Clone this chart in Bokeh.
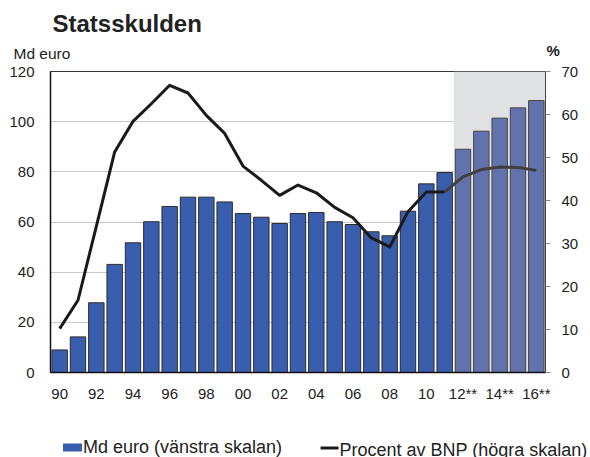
from bokeh.plotting import figure
from bokeh.models import (Range1d, LinearAxis, FixedTicker, ColumnDataSource, Label)
from bokeh.embed import file_html
from bokeh.resources import INLINE

# ---- data ----
years = list(range(1990, 2017))
debt_bn_eur = [9.0, 14.2, 27.8, 43.1, 51.7, 60.1, 66.2, 69.9, 69.9, 68.0, 63.4, 61.9, 59.4,
               63.4, 63.8, 60.1, 59.0, 56.1, 54.5, 64.3, 75.2, 79.7, 89.0, 96.2, 101.4,
               105.5, 108.4]
pct_gdp = [10.2, 16.8, 34.0, 51.3, 58.4, 62.5, 66.8, 65.0, 59.8, 55.6, 48.0, 44.7, 41.2,
           43.6, 41.8, 38.4, 36.0, 31.3, 29.2, 37.4, 42.0, 42.0, 45.5, 47.2, 47.8, 47.7, 47.0]
forecast_start = 2012
x_ticks = list(range(1990, 2017, 2))
x_tick_labels = ["90", "92", "94", "96", "98", "00", "02", "04", "06", "08", "10",
                 "12**", "14**", "16**"]
left_ticks = [0, 20, 40, 60, 80, 100, 120]
right_ticks = [0, 10, 20, 30, 40, 50, 60, 70]
title_text = "Statsskulden"
left_unit = "Md euro"
right_unit = "%"
legend_bar = "Md euro (vänstra skalan)"
legend_line = "Procent av BNP (högra skalan)"

FONT = "Liberation Sans"
TXT = "#222222"
BAR_HIST = "#3a5eae"
BAR_FC = "#6272ad"
LINE_HIST = "#1a1a1a"
LINE_FC = "#404040"

hist_idx = [i for i, y in enumerate(years) if y < forecast_start]
fc_idx = [i for i, y in enumerate(years) if y >= forecast_start]
line_hist_idx = [i for i, y in enumerate(years) if y <= forecast_start - 1]
line_fc_idx = [i for i, y in enumerate(years) if y >= forecast_start - 1]

p = figure(frame_width=495, frame_height=301, output_backend="svg", toolbar_location=None,
           x_range=Range1d(years[0] - 0.5, years[-1] + 0.5),
           y_range=Range1d(left_ticks[0], left_ticks[-1]),
           min_border_left=50, min_border_right=45, min_border_top=71,
           min_border_bottom=85)
p.extra_y_ranges = {"pct": Range1d(right_ticks[0], right_ticks[-1])}
# pixel-like range across the frame, used to lay out the legend row
p.extra_x_ranges = {"leg": Range1d(0, 495)}

p.outline_line_color = "#333333"
p.outline_line_width = 1

p.xgrid.grid_line_color = None
p.ygrid.grid_line_color = "#c8c8c8"
p.ygrid.grid_line_width = 1

# forecast shading
p.quad(left=[forecast_start - 0.5], right=[years[-1] + 0.5],
       bottom=[left_ticks[0]], top=[left_ticks[-1]],
       fill_color="#e0e1e3", line_color=None)

# bars
src_h = ColumnDataSource(dict(x=[years[i] for i in hist_idx], top=[debt_bn_eur[i] for i in hist_idx]))
src_f = ColumnDataSource(dict(x=[years[i] for i in fc_idx], top=[debt_bn_eur[i] for i in fc_idx]))
p.vbar(x="x", top="top", width=0.84, bottom=0, source=src_h,
       fill_color=BAR_HIST, line_color="#2b2b2b", line_width=1)
p.vbar(x="x", top="top", width=0.84, bottom=0, source=src_f,
       fill_color=BAR_FC, line_color="#444444", line_width=1)

# lines
p.line([years[i] for i in line_hist_idx], [pct_gdp[i] for i in line_hist_idx],
       y_range_name="pct", line_color=LINE_HIST, line_width=3, line_join="round")
p.line([years[i] for i in line_fc_idx], [pct_gdp[i] for i in line_fc_idx],
       y_range_name="pct", line_color=LINE_FC, line_width=3, line_join="round")

# axes
xa = p.xaxis[0]
xa.ticker = FixedTicker(ticks=x_ticks)
xa.major_label_overrides = {t: l for t, l in zip(x_ticks, x_tick_labels)}
xa.major_tick_out = 0
xa.major_tick_in = 0
xa.minor_tick_out = 0
xa.minor_tick_in = 0
xa.axis_line_color = "#111111"
xa.axis_line_width = 1.5
xa.major_label_text_font = FONT
xa.major_label_text_font_size = "15px"
xa.major_label_text_color = TXT
xa.major_label_standoff = 12

ya = p.yaxis[0]
ya.ticker = FixedTicker(ticks=left_ticks)
ya.major_tick_out = 0
ya.major_tick_in = 0
ya.minor_tick_out = 0
ya.minor_tick_in = 0
ya.axis_line_color = "#111111"
ya.axis_line_width = 1.5
ya.major_label_text_font = FONT
ya.major_label_text_font_size = "15px"
ya.major_label_text_color = TXT
ya.major_label_standoff = 16

ra = LinearAxis(y_range_name="pct", ticker=FixedTicker(ticks=right_ticks))
ra.major_tick_out = 5
ra.major_tick_in = 0
ra.minor_tick_out = 0
ra.minor_tick_in = 0
ra.major_tick_line_color = "#888888"
ra.axis_line_color = "#444444"
ra.major_label_text_font = FONT
ra.major_label_text_font_size = "15px"
ra.major_label_text_color = TXT
ra.major_label_standoff = 11
p.add_layout(ra, "right")

# heading texts in the top panel (first = nearest the frame)
lab_md = Label(x=-37, y=18, x_units="screen", y_units="screen", text=left_unit,
               text_font=FONT, text_font_size="15.5px", text_color=TXT,
               text_baseline="alphabetic")
lab_pct = Label(x=496, y=4, x_units="screen", y_units="screen", text=right_unit,
                text_font=FONT, text_font_size="15px", text_font_style="bold",
                text_color=TXT, text_baseline="alphabetic")
lab_title = Label(x=2, y=14, x_units="screen", y_units="screen", text=title_text,
                  text_font=FONT, text_font_size="24px", text_font_style="bold",
                  text_color=TXT, text_baseline="alphabetic")
p.add_layout(lab_md, "above")
p.add_layout(lab_pct, "above")
p.add_layout(lab_title, "above")


# ---- legend row below the x axis, built from extra axes on the "leg" range ----
def legend_axis(ticks, minor, labels, standoff, font_size="18px"):
    ax = LinearAxis(x_range_name="leg", ticker=FixedTicker(ticks=ticks, minor_ticks=minor))
    ax.major_label_overrides = labels
    ax.axis_line_color = None
    ax.major_tick_in = 0
    ax.major_tick_out = 0
    ax.minor_tick_in = 0
    ax.minor_tick_out = 0
    ax.major_label_standoff = standoff
    ax.major_label_text_font = FONT
    ax.major_label_text_font_size = font_size
    ax.major_label_text_color = TXT
    return ax


leg_bar_axis = legend_axis([132], [], {132: legend_bar}, 32)
leg_line_axis = legend_axis([413], [], {413: legend_line}, -20)
# swatches: a wide tick for the bar sample and a flat one for the line sample
sw_axis = legend_axis([22], [279], {22: ""}, -10, font_size="1px")
sw_axis.major_label_text_alpha = 0
sw_axis.major_tick_line_color = BAR_HIST
sw_axis.major_tick_line_width = 19
sw_axis.major_tick_line_cap = "butt"
sw_axis.major_tick_in = 19
sw_axis.major_tick_out = -11
sw_axis.minor_tick_line_color = LINE_HIST
sw_axis.minor_tick_line_width = 18
sw_axis.minor_tick_line_cap = "butt"
sw_axis.minor_tick_in = 16
sw_axis.minor_tick_out = -13
p.add_layout(leg_bar_axis, "below")
p.add_layout(leg_line_axis, "below")
p.add_layout(sw_axis, "below")

open("out.html", "w").write(file_html(p, INLINE))
